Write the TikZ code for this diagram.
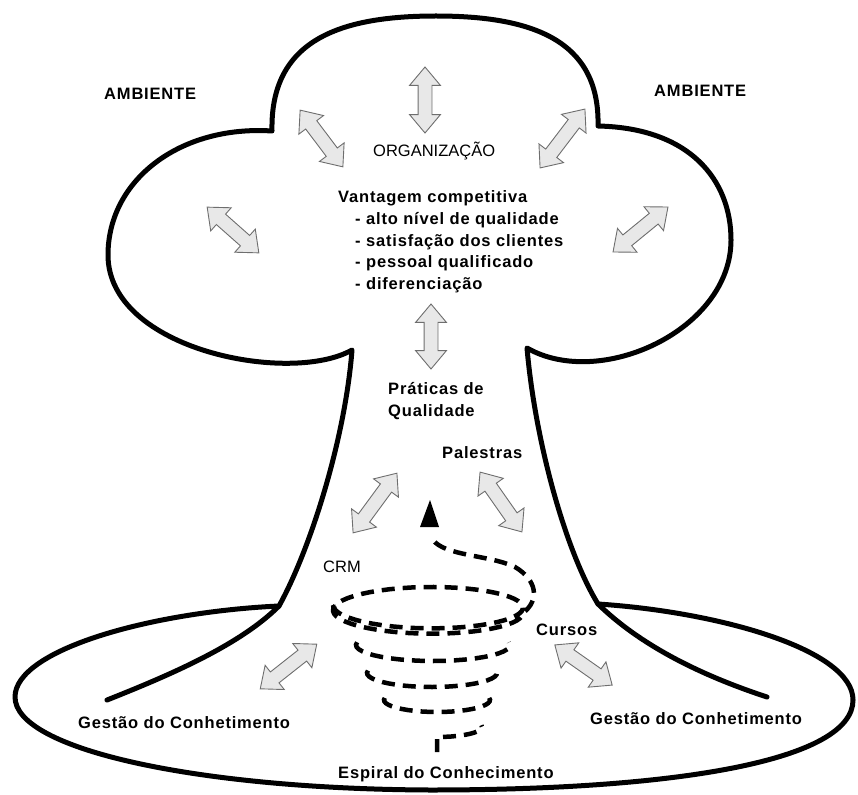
\documentclass[tikz,border=0pt]{standalone}
\usepackage{fontspec}
\setmainfont{Liberation Sans}
\newfontfamily\widesans{Liberation Sans}[LetterSpace=5]
\usepackage{tikz}
\usetikzlibrary{shapes.arrows}
\definecolor{arrowfill}{HTML}{E8E8E8}
\definecolor{arrowline}{HTML}{6E6E6E}

\begin{document}
\begin{tikzpicture}[x=1pt, y=-1pt,
  every node/.style={inner sep=0pt, anchor=base west},
  lbl/.style={font=\widesans\bfseries\fontsize{16.5}{20}\selectfont},
  lblreg/.style={font=\fontsize{16.5}{20}\selectfont},
  dblarr/.style={double arrow, anchor=center, draw=arrowline, fill=arrowfill, line width=0.9pt,
    inner xsep=0pt, inner ysep=6.5pt, double arrow head extend=8.5pt, double arrow tip angle=80},
  outline/.style={line width=5pt, line cap=round, line join=round},
  spiral/.style={line width=4.5pt, dash pattern=on 13pt off 8pt}]
  \useasboundingbox (0,0) rectangle (858,794);

  % junctions of trunk and base
  \coordinate (jl) at (279,606);
  \coordinate (jr) at (598,604);

  % tree: trunk and the three lobes
  \draw[outline] (107,700) .. controls (170,675) and (240,645) .. (jl)
    .. controls (310,550) and (345,440) .. (352,350)
    .. controls (290,385) and (108,350) .. (108,255)
    .. controls (108,180) and (180,125) .. (272,131)
    .. controls (270,40) and (340,16) .. (436,16)
    .. controls (532,16) and (600,40) .. (598,126)
    .. controls (690,128) and (731,180) .. (731,240)
    .. controls (731,330) and (600,390) .. (527,348)
    .. controls (535,440) and (565,550) .. (jr)
    .. controls (640,645) and (700,675) .. (767,697);

  % base
  \draw[outline] (jl) .. controls (150,612) and (15,650) .. (15,697)
    .. controls (15,750) and (200,789) .. (430,790)
    .. controls (680,790) and (853,760) .. (853,700)
    .. controls (853,650) and (720,612) .. (jr);

  % texts
  \node[lbl] (amb1) at (104,100) {AMBIENTE};
  \node[lbl] (amb2) at (654,97) {AMBIENTE};
  \node[lblreg] (org) at (373,157) {ORGANIZAÇÃO};
  \node[lbl] (vant) at (338,203) {Vantagem competitiva};
  \node[lbl] (it1) at (355,225) {- alto nível de qualidade};
  \node[lbl] (it2) at (355,246) {- satisfação dos clientes};
  \node[lbl] (it3) at (355,267.5) {- pessoal qualificado};
  \node[lbl] (it4) at (355,289) {- diferenciação};
  \node[lbl] (prat) at (388,394) {Práticas de};
  \node[lbl] (qual) at (388,416) {Qualidade};
  \node[lbl] (pal) at (442,458) {Palestras};
  \node[lblreg] (crm) at (323,572) {CRM};
  \node[lbl] (cur) at (536,635) {Cursos};
  \node[lbl] (gest1) at (78,728) {Gestão do Conhetimento};
  \node[lbl] (gest2) at (590,724) {Gestão do Conhetimento};
  \node[lbl] (esp) at (338,778) {Espiral do Conhecimento};

  % double arrows
  \node[dblarr, minimum height=66, rotate=90] (up) at (425,100) {};
  \node[dblarr, minimum height=71, rotate=-53] (ul) at (321.5,138.5) {};
  \node[dblarr, minimum height=74, rotate=52.7] (ur) at (562.5,138.5) {};
  \node[dblarr, minimum height=69, rotate=-41.5] (ml) at (233,230) {};
  \node[dblarr, minimum height=71, rotate=39.3] (mr) at (640.5,229.5) {};
  \node[dblarr, minimum height=65, rotate=90] (mid) at (431,336.5) {};
  \node[dblarr, minimum height=74, rotate=53.7] (tl) at (375,503) {};
  \node[dblarr, minimum height=73, rotate=-55] (tr) at (501,502) {};
  \node[dblarr, minimum height=72, rotate=38.3] (bl) at (288.5,666.5) {};
  \node[dblarr, minimum height=70, rotate=-35] (br) at (583.5,665) {};

  % spiral of knowledge
  \draw[spiral] (437,752) -- (437,737)
    -- plot[domain=0:100, samples=12, variable=\a] ({437+45*sin(\a)}, {727+10*cos(\a)});
  \draw[spiral] plot[domain=-100:100, samples=25, variable=\a] ({437+53*sin(\a)}, {700+12*cos(\a)});
  \draw[spiral] plot[domain=-100:100, samples=25, variable=\a] ({432+65*sin(\a)}, {673+14*cos(\a)});
  \draw[spiral] plot[domain=-100:100, samples=25, variable=\a] ({433+77*sin(\a)}, {645+16*cos(\a)});
  \draw[spiral] plot[domain=-90:450, samples=80, variable=\a] ({428+95*sin(\a)}, {605+8*(\a+90)/540+22*cos(\a)})
    .. controls (540,600) and (537,580) .. (515,567)
    .. controls (490,555) and (445,556) .. (433,540);
  \fill (430,500) -- (439,527) -- (420,527) -- cycle;
\end{tikzpicture}
\end{document}
